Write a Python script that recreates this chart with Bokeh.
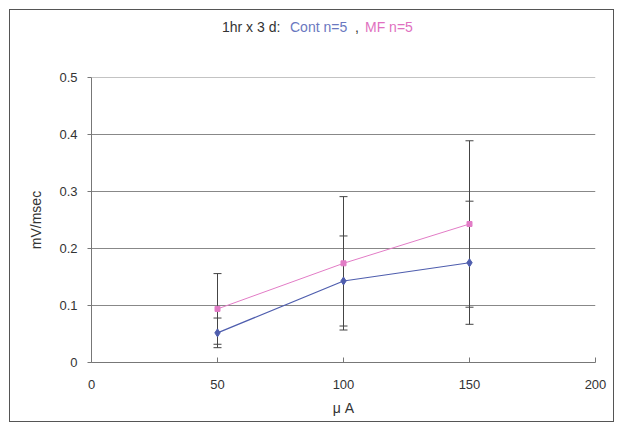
from bokeh.plotting import figure
from bokeh.models import ColumnDataSource, Whisker, TeeHead, FixedTicker, Range1d, Span, Div
from bokeh.layouts import column
from bokeh.embed import file_html
from bokeh.resources import INLINE

# data
current_uA = [50, 100, 150]
cont_mean = [0.052, 0.143, 0.175]
cont_err = [0.026, 0.079, 0.108]
mf_mean = [0.094, 0.174, 0.243]
mf_err = [0.062, 0.117, 0.146]
x_ticks = [0, 50, 100, 150, 200]
y_ticks = [0, 0.1, 0.2, 0.3, 0.4, 0.5]
y_tick_labels = ["0", "0.1", "0.2", "0.3", "0.4", "0.5"]
title_parts = ["1hr x 3 d:", "Cont n=5", ",", "MF n=5"]

FONT = "Liberation Sans"
TXT = "#333333"
BLUE = "#4f5eae"
PINK = "#e27cc6"
TITLE_COLORS = [TXT, "#6a78c0", TXT, "#e070c0"]
TITLE_X = [222, 290, 355, 365]

W, H, HEAD = 623, 431, 40
p = figure(width=W, height=H - HEAD, output_backend="svg", toolbar_location=None,
           x_range=Range1d(0, 200), y_range=Range1d(0, 0.5),
           min_border_left=91, min_border_right=W - 595, min_border_top=77 - HEAD,
           min_border_bottom=H - 362)
p.outline_line_color = None
p.background_fill_color = "white"
p.border_fill_alpha = 0

# axes
p.xaxis.ticker = FixedTicker(ticks=x_ticks)
p.yaxis.ticker = FixedTicker(ticks=y_ticks)
p.yaxis.major_label_overrides = {t: l for t, l in zip(y_ticks, y_tick_labels)}
for ax in (p.xaxis[0], p.yaxis[0]):
    ax.axis_line_color = "#777777"
    ax.major_tick_line_color = "#777777"
    ax.minor_tick_line_color = None
    ax.major_label_text_font = FONT
    ax.major_label_text_font_size = "13px"
    ax.major_label_text_color = TXT
    ax.axis_label_text_font = FONT
    ax.axis_label_text_font_size = "14px"
    ax.axis_label_text_font_style = "normal"
    ax.axis_label_text_color = TXT
p.xaxis.major_tick_in = 5
p.xaxis.major_tick_out = 0
p.xaxis.major_label_standoff = 17
p.xaxis.axis_label = "μ A"
p.xaxis.axis_label_standoff = 8
p.yaxis.major_tick_in = 0
p.yaxis.major_tick_out = 4
p.yaxis.major_label_standoff = 10
p.yaxis.axis_label = "mV/msec"
p.yaxis.axis_label_standoff = 12

p.xgrid.grid_line_color = None
p.ygrid.ticker = FixedTicker(ticks=y_ticks[1:])
p.ygrid.grid_line_color = "#888888"
p.ygrid.grid_line_width = 1
p.add_layout(Span(location=y_ticks[-1], dimension="width", line_color="#888888", line_width=1))

# error bars
for mean, err in ((cont_mean, cont_err), (mf_mean, mf_err)):
    src = ColumnDataSource(dict(x=current_uA,
                                lo=[m - e for m, e in zip(mean, err)],
                                hi=[m + e for m, e in zip(mean, err)]))
    w = Whisker(source=src, base="x", lower="lo", upper="hi",
                line_color="#444444", line_width=1,
                upper_head=TeeHead(size=8, line_color="#444444", line_width=1),
                lower_head=TeeHead(size=8, line_color="#444444", line_width=1))
    p.add_layout(w)

# lines and markers
p.line(current_uA, cont_mean, line_color=BLUE, line_width=1.2)
p.line(current_uA, mf_mean, line_color=PINK, line_width=1)
p.scatter(current_uA, cont_mean, marker="diamond", size=8, fill_color=BLUE, line_color=BLUE)
p.scatter(current_uA, mf_mean, marker="square", size=5, fill_color=PINK, line_color=PINK)

# title (coloured pieces)
spans = []
for i, (t, c) in enumerate(zip(title_parts, TITLE_COLORS)):
    w = (TITLE_X[i + 1] - TITLE_X[i]) if i + 1 < len(TITLE_X) else 80
    spans.append(f'<span style="display:inline-block;width:{w}px;color:{c};white-space:nowrap">{t}</span>')
html = (f'<div style="padding-left:{TITLE_X[0]}px;padding-top:19px;font-family:\'{FONT}\';'
        f'font-size:14px;line-height:16px;white-space:nowrap">' + "".join(spans) + "</div>")
title = Div(text=html, width=W, height=HEAD, margin=(0, 0, 0, 0))

layout = column(title, p, spacing=0, width=W, height=H,
                styles={"outline": "1.5px solid #555555", "outline-offset": "-10px"})
open("out.html", "w").write(file_html(layout, INLINE))
